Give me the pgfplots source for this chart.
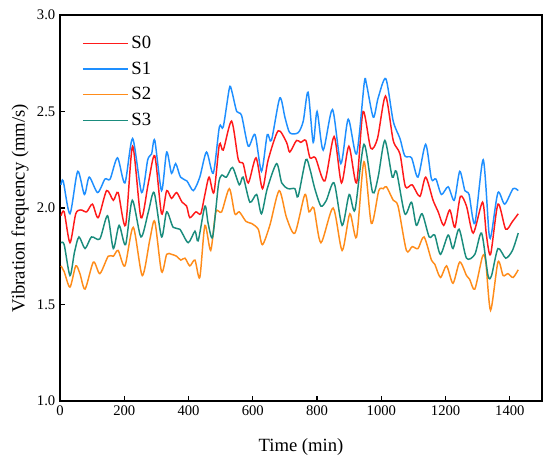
\documentclass[border=0pt]{standalone}
\usepackage{fontspec}
\setmainfont{Liberation Serif}
\usepackage{pgfplots}
\pgfplotsset{compat=1.18}
\definecolor{cS0}{HTML}{FF1A1A}
\definecolor{cS1}{HTML}{1E8FFF}
\definecolor{cS2}{HTML}{FF8C1A}
\definecolor{cS3}{HTML}{1A8C7D}
\begin{document}
\begin{tikzpicture}
\path[use as bounding box] (-45pt,-49.5pt) rectangle (367.5pt,300.75pt);
\begin{axis}[
  at={(0,0)}, anchor=south west,
  scale only axis, width=361.5pt, height=289.5pt,
  xmin=0, xmax=1500, ymin=1.0, ymax=3.0,
  xtick={0,200,...,1400}, ytick={1.0,1.5,...,3.0},
  tick pos=left, tick align=inside,
  major tick length=4pt,
  axis line style={line width=0.9pt}, every tick/.style={line width=0.9pt, black},
  xticklabel style={/pgf/number format/.cd, 1000 sep={}},
  yticklabel style={/pgf/number format/.cd, fixed, fixed zerofill, precision=1},
  /pgf/number format/assume math mode=true,
  ticklabel style={font=\fontsize{11}{12}\selectfont},
  xlabel={Time (min)}, ylabel={Vibration frequency (mm/s)},
  label style={font=\fontsize{14}{16}\selectfont},
  xlabel style={at={(axis description cs:0.5,-0.12)}, anchor=center},
  ylabel style={at={(axis description cs:-0.083,0.5)}, anchor=center},
  legend style={draw=none, fill=none, at={(axis description cs:0.037,0.96)}, anchor=north west,
    font=\fontsize{14}{16}\selectfont, row sep=4.5pt},
  legend cell align=left,
  legend image code/.code={\draw[#1, line width=1pt] (0pt,0pt) -- (34pt,0pt);},
  every axis plot/.append style={line width=1.1pt, smooth, tension=0.45},
]
\addplot[cS0] coordinates {
(3,1.96)(13,1.98)(31,1.82)(49,1.97)(65,1.99)(83,1.98)(101,2.02)(119,1.95)(145,2.09)(166,2.04)
(181,2.08)(204,1.91)(226,2.32)(252,1.95)(275,2.13)(295,2.27)(316,1.97)(332,2.09)(347,2.05)(363,2.08)
(380,2.03)(394,2.01)(404,1.95)(423,1.98)(438,1.97)(451,2.07)(464,2.16)(479,2.08)(496,2.33)(508,2.30)
(534,2.45)(555,2.25)(570,2.23)(586,2.13)(610,2.26)(630,2.10)(648,2.25)(679,2.40)(705,2.34)(715,2.29)
(736,2.35)(749,2.34)(765,2.35)(778,2.26)(795,2.26)(824,2.14)(853,2.37)(876,2.13)(899,2.32)(923,2.13)
(943,2.50)(967,2.31)(988,2.36)(1013,2.58)(1037,2.35)(1058,2.28)(1075,2.11)(1096,2.12)(1120,2.06)(1138,2.16)
(1161,2.04)(1177,1.98)(1194,1.91)(1213,1.99)(1229,1.90)(1246,2.06)(1265,2.01)(1286,1.87)(1315,2.03)(1327,1.86)
(1340,1.76)(1363,2.02)(1387,1.89)(1408,1.93)(1426,1.97)
};
\addlegendentry{S0}
\addplot[cS1] coordinates {
(3,2.12)(10,2.14)(31,1.97)(55,2.19)(76,2.07)(91,2.16)(117,2.08)(140,2.15)(156,2.15)(179,2.26)
(202,2.13)(226,2.36)(254,2.08)(273,2.25)(285,2.28)(295,2.35)(316,2.09)(332,2.29)(347,2.18)(360,2.23)
(375,2.16)(395,2.14)(415,2.09)(435,2.16)(456,2.29)(477,2.18)(496,2.42)(508,2.42)(527,2.62)(534,2.61)
(550,2.50)(565,2.48)(586,2.32)(607,2.38)(627,2.19)(645,2.38)(658,2.35)(684,2.57)(700,2.47)(715,2.39)
(741,2.39)(757,2.45)(772,2.60)(788,2.34)(800,2.50)(819,2.30)(848,2.51)(874,2.23)(897,2.46)(923,2.28)
(947,2.65)(954,2.64)(975,2.47)(990,2.57)(1014,2.67)(1037,2.45)(1058,2.36)(1073,2.27)(1094,2.26)(1114,2.16)
(1138,2.33)(1156,2.15)(1170,2.15)(1187,2.07)(1208,2.11)(1227,2.04)(1244,2.19)(1260,2.09)(1273,2.07)(1291,1.92)
(1317,2.25)(1335,1.87)(1343,1.87)(1363,2.08)(1384,2.02)(1410,2.10)(1426,2.09)
};
\addlegendentry{S1}
\addplot[cS2] coordinates {
(3,1.70)(13,1.67)(31,1.59)(49,1.70)(62,1.66)(78,1.58)(104,1.72)(124,1.66)(150,1.75)(166,1.75)
(181,1.78)(202,1.70)(228,1.90)(256,1.65)(280,1.84)(295,1.93)(316,1.67)(332,1.76)(347,1.76)(363,1.75)
(376,1.73)(389,1.74)(404,1.70)(420,1.73)(435,1.64)(451,1.91)(469,1.78)(485,1.98)(503,1.98)(527,2.10)
(544,1.97)(558,1.98)(579,1.93)(596,1.92)(617,1.89)(630,1.81)(653,1.91)(682,2.09)(705,1.95)(731,1.87)
(762,2.07)(775,1.98)(790,2.00)(812,1.82)(850,2.00)(878,1.78)(902,1.97)(923,1.85)(946,2.24)(969,1.92)
(992,2.09)(1006,2.10)(1016,2.11)(1037,2.04)(1052,2.01)(1078,1.78)(1096,1.80)(1114,1.79)(1133,1.85)(1156,1.73)
(1166,1.71)(1184,1.64)(1203,1.70)(1223,1.61)(1244,1.72)(1265,1.65)(1275,1.63)(1291,1.58)(1315,1.75)(1325,1.72)
(1340,1.47)(1363,1.72)(1379,1.65)(1394,1.66)(1410,1.64)(1426,1.68)
};
\addlegendentry{S2}
\addplot[cS3] coordinates {
(3,1.82)(13,1.81)(31,1.65)(45,1.77)(59,1.85)(78,1.79)(98,1.85)(124,1.84)(148,1.96)(166,1.79)
(184,1.91)(204,1.81)(225,2.04)(252,1.85)(275,1.98)(293,2.08)(316,1.85)(332,1.98)(352,1.90)(373,1.89)
(399,1.82)(420,1.88)(430,1.83)(451,2.01)(461,1.92)(475,1.85)(493,2.12)(503,2.17)(518,2.16)(537,2.21)
(558,2.12)(570,2.16)(591,2.03)(612,2.07)(627,1.97)(645,2.10)(674,2.23)(690,2.13)(710,2.10)(731,2.10)
(741,2.06)(765,2.25)(778,2.20)(793,2.10)(812,2.01)(829,2.04)(853,2.13)(878,1.91)(900,2.07)(918,1.99)
(946,2.33)(973,2.08)(990,2.16)(1011,2.35)(1034,2.16)(1047,2.19)(1073,1.97)(1094,2.03)(1109,1.91)(1127,1.97)
(1149,1.85)(1166,1.86)(1184,1.76)(1208,1.86)(1223,1.79)(1242,1.89)(1265,1.74)(1291,1.76)(1312,1.87)(1332,1.65)
(1343,1.65)(1363,1.79)(1387,1.74)(1408,1.78)(1426,1.87)
};
\addlegendentry{S3}
\end{axis}
\end{tikzpicture}
\end{document}
